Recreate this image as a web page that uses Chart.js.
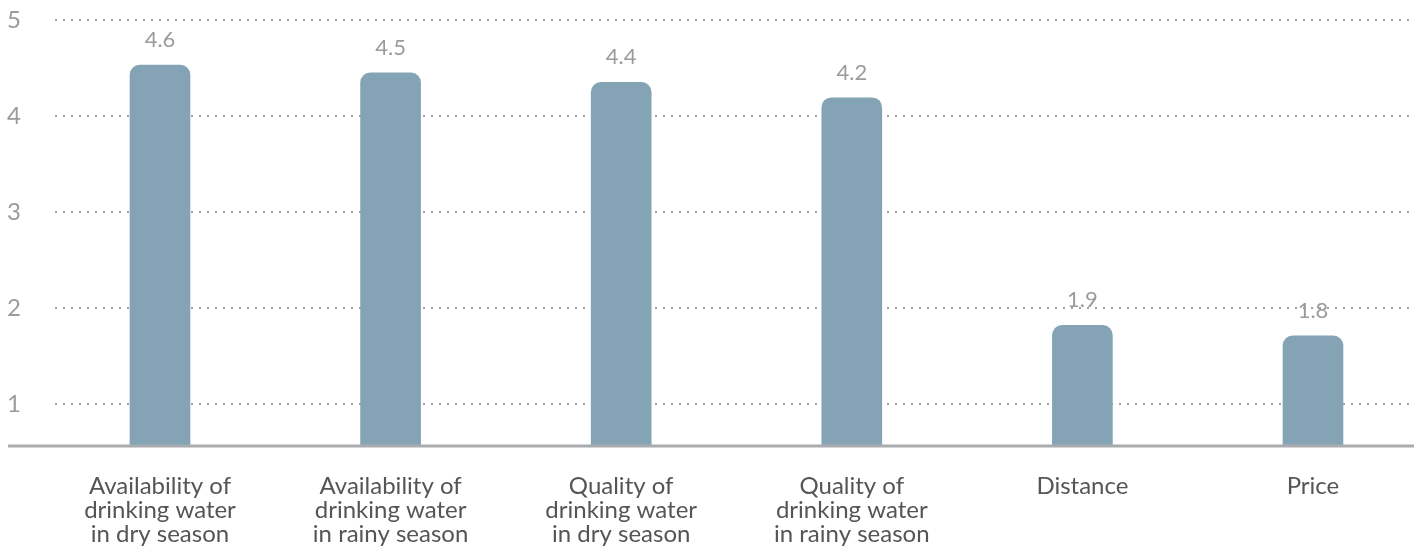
<!DOCTYPE html>
<html lang="en">
<head>
    <meta charset="UTF-8">
    <title>Drinking water ratings</title>
    <script src="https://cdn.jsdelivr.net/npm/chart.js"></script>
    <style>
        * {
            margin: 0;
            padding: 0;
            box-sizing: border-box;
        }
        body {
            background-color: #fff;
            overflow: hidden;
        }
        .chart-container {
            position: relative;
            width: 1419px;
            height: 549px;
        }
    </style>
</head>
<body>
    <div class="chart-container">
        <canvas id="ratingChart"></canvas>
    </div>

    <script>
        const categories = [
            ['Availability of', 'drinking water', 'in dry season'],
            ['Availability of', 'drinking water', 'in rainy season'],
            ['Quality of', 'drinking water', 'in dry season'],
            ['Quality of', 'drinking water', 'in rainy season'],
            ['Distance'],
            ['Price']
        ];
        const scores = [4.53, 4.45, 4.35, 4.19, 1.82, 1.71];
        const scoreLabels = ['4.6', '4.5', '4.4', '4.2', '1.9', '1.8'];
        const yTicks = [1, 2, 3, 4, 5];

        // value labels above each bar
        const valueLabels = {
            id: 'valueLabels',
            afterDatasetsDraw(chart) {
                const ctx = chart.ctx;
                const meta = chart.getDatasetMeta(0);
                ctx.save();
                ctx.font = '22px Lato, sans-serif';
                ctx.fillStyle = '#9b9b9b';
                ctx.textAlign = 'center';
                ctx.textBaseline = 'middle';
                meta.data.forEach((bar, i) => {
                    ctx.fillText(scoreLabels[i], bar.x, bar.y - 25);
                });
                ctx.restore();
            }
        };

        // solid baseline running past the plot area
        const baseLine = {
            id: 'baseLine',
            afterDatasetsDraw(chart) {
                const ctx = chart.ctx;
                const y = chart.chartArea.bottom;
                ctx.save();
                ctx.strokeStyle = '#a9abaf';
                ctx.lineWidth = 3;
                ctx.beginPath();
                ctx.moveTo(8, y);
                ctx.lineTo(1414, y);
                ctx.stroke();
                ctx.restore();
            }
        };

        document.addEventListener('DOMContentLoaded', () => {
            const ctx = document.getElementById('ratingChart').getContext('2d');
            new Chart(ctx, {
                type: 'bar',
                data: {
                    datasets: [{
                        data: scores.map((v, i) => ({ x: i, y: v })),
                        backgroundColor: '#84a4b6',
                        borderRadius: 10,
                        borderSkipped: 'bottom',
                        barThickness: 60
                    }]
                },
                options: {
                    responsive: true,
                    maintainAspectRatio: false,
                    animation: false,
                    layout: {
                        padding: { top: 20, right: 9, left: 0, bottom: 0 }
                    },
                    plugins: {
                        legend: { display: false },
                        tooltip: { enabled: false }
                    },
                    scales: {
                        x: {
                            type: 'linear',
                            offset: false,
                            min: -0.4553,
                            max: 5.4207,
                            grid: { display: false, drawTicks: false },
                            border: { display: false },
                            afterBuildTicks(scale) {
                                scale.ticks = categories.map((c, i) => ({ value: i }));
                            },
                            afterFit(scale) {
                                scale.height = 103;
                            },
                            ticks: {
                                padding: 28,
                                maxRotation: 0,
                                autoSkip: false,
                                color: '#555',
                                font: { family: 'Lato, sans-serif', size: 24, lineHeight: 1.0 },
                                callback: (value) => categories[value] || ''
                            }
                        },
                        y: {
                            min: 0.5625,
                            max: 5,
                            afterBuildTicks(scale) {
                                scale.ticks = yTicks.map(v => ({ value: v }));
                            },
                            afterFit(scale) {
                                scale.width = 55;
                                // big tick padding should not push the plot down
                                scale.paddingTop = 0;
                                scale.paddingBottom = 0;
                            },
                            grid: {
                                color: '#a0a0a0',
                                lineWidth: 2,
                                drawTicks: false
                            },
                            border: { display: false, dash: [2, 6] },
                            ticks: {
                                padding: 34,
                                color: '#9b9b9b',
                                font: { family: 'Lato, sans-serif', size: 24 }
                            }
                        }
                    }
                },
                plugins: [valueLabels, baseLine]
            });
        });
    </script>
</body>
</html>
